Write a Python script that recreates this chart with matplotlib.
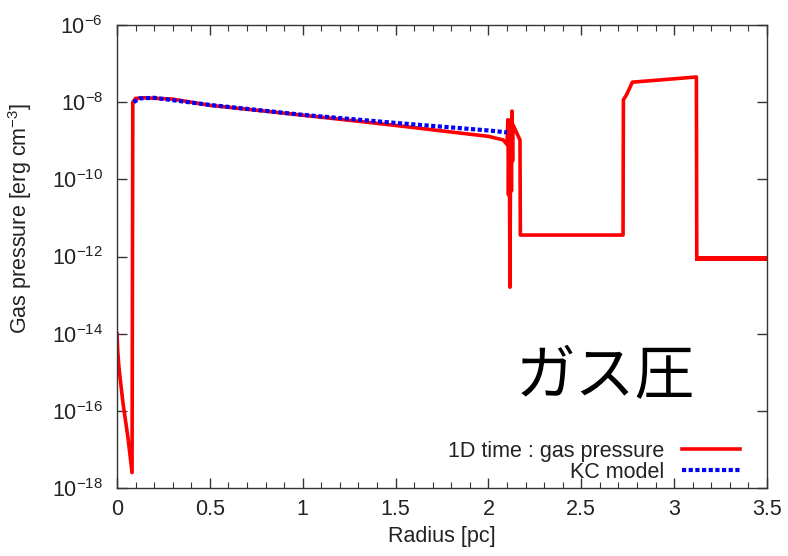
import matplotlib
matplotlib.use('Agg')
import matplotlib.pyplot as plt
import matplotlib.ticker as ticker
import numpy as np

plt.rcParams['font.family'] = ['Liberation Sans', 'DejaVu Sans']
plt.rcParams['mathtext.fontset'] = 'custom'
plt.rcParams['mathtext.rm'] = 'Liberation Sans'
plt.rcParams['mathtext.it'] = 'Liberation Sans'

# 1D run: gas pressure vs radius
r_1d = [0.0, 0.004, 0.009, 0.016, 0.032, 0.059, 0.081, 0.085, 0.1, 0.15, 0.3,
        0.5, 0.75, 1.0, 1.25, 1.5, 1.75, 2.0, 2.08, 2.10, 2.105, 2.108, 2.112,
        2.116, 2.12, 2.124, 2.127, 2.13, 2.132, 2.17, 2.172, 2.725, 2.727,
        2.745, 2.775, 3.12, 3.122, 3.5]
p_1d = [1e-14, 3.5e-15, 1.6e-15, 7.6e-16, 1.6e-16, 2.0e-17, 2.5e-18, 1.0e-8,
        1.25e-8, 1.3e-8, 1.2e-8, 8.3e-9, 6.2e-9, 4.6e-9, 3.4e-9, 2.5e-9,
        1.8e-9, 1.3e-9, 1.05e-9, 8e-10, 3.5e-9, 4e-11, 3e-9, 1.6e-13, 3.5e-9,
        5e-11, 5.9e-9, 3e-10, 2.6e-9, 1.05e-9, 3.6e-12, 3.6e-12, 1.15e-8,
        1.6e-8, 3.3e-8, 4.5e-8, 9e-13, 9e-13]

# KC model
r_kc = [0.09, 0.12, 0.2, 0.5, 1.0, 1.5, 2.0, 2.1]
p_kc = [1.0e-8, 1.25e-8, 1.3e-8, 8.5e-9, 4.7e-9, 2.9e-9, 1.85e-9, 1.65e-9]

fs = 15.5

fig = plt.figure(figsize=(7.88, 5.56), dpi=100)
ax = fig.add_axes([0.1485, 0.1223, 0.8248, 0.8327])

ax.plot(r_1d, p_1d, color='#ff0000', lw=2.6, label='1D time : gas pressure')
# outer tail is drawn a bit heavier
tail = r_1d.index(3.122)
ax.plot(r_1d[tail:], p_1d[tail:], color='#ff0000', lw=3.6)
ax.plot(r_kc, p_kc, color='#0000ff', lw=3, linestyle=(0, (1, 0.6)),
        label='KC model')

ax.set_yscale('log')
ax.set_xlim(0, 3.5)
ax.set_ylim(1e-18, 1e-6)
ax.xaxis.set_major_locator(ticker.MultipleLocator(0.5))
ax.xaxis.set_minor_locator(ticker.MultipleLocator(0.1))
ax.xaxis.set_major_formatter(ticker.FuncFormatter(lambda v, p: '%g' % v))
yt = [10.0 ** e for e in range(-18, -5, 2)]
ax.yaxis.set_major_locator(ticker.FixedLocator(yt))
ax.yaxis.set_minor_locator(ticker.NullLocator())
ax.yaxis.set_major_formatter(ticker.FuncFormatter(
    lambda v, p: r'$10^{%d}$' % round(np.log10(v))))

ax.tick_params(which='both', direction='in', top=True, right=True,
               colors='#333333', labelcolor='#222222', labelsize=fs)
ax.tick_params(which='major', length=7, width=1, pad=8)
ax.tick_params(axis='y', which='major', pad=10)
ax.tick_params(which='minor', length=4, width=0.8)
for s in ax.spines.values():
    s.set_color('#333333')
    s.set_linewidth(1)

ax.set_xlabel('Radius [pc]', fontsize=fs, color='#222222', labelpad=4)
ax.set_ylabel(r'Gas pressure [erg cm$^{-3}$]', fontsize=fs, color='#222222')
ax.yaxis.set_label_coords(-0.128, 0.583)

ax.legend(loc='lower right', bbox_to_anchor=(0.988, -0.031), frameon=False,
          markerfirst=False, fontsize=fs, handlelength=2.7,
          handletextpad=0.8, labelspacing=0.0, labelcolor='#222222')

ax.text(0.751, 0.238, 'ガス圧', transform=ax.transAxes, ha='center',
        va='center', fontsize=43, color='black',
        family=['Noto Sans CJK JP', 'DejaVu Sans'])

fig.savefig('out.png', dpi=100)
